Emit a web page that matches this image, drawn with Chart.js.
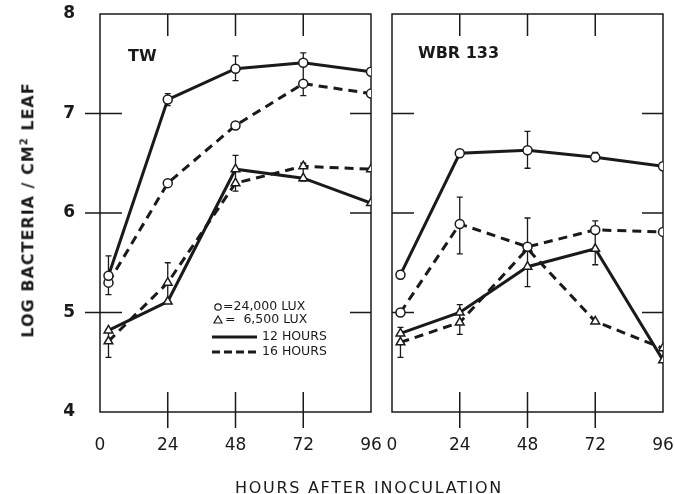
<!DOCTYPE html>
<html>
<head>
<meta charset="utf-8">
<script src="https://cdn.jsdelivr.net/npm/chart.js@4"></script>
<style>
body { margin:0; background:#fff; width:674px; height:494px; position:relative; overflow:hidden; font-family:"DejaVu Sans", sans-serif; color:#1a1a1a; }
#left { position:absolute; left:0; top:0; }
#right { position:absolute; left:382px; top:0; }
#ytitle { position:absolute; left:28px; top:210px; transform:translate(-50%,-50%) rotate(-90deg); white-space:nowrap; font-size:16px; font-weight:bold; letter-spacing:1px; }
#xtitle { position:absolute; left:369px; top:487px; transform:translate(-50%,-50%); white-space:nowrap; font-size:16px; letter-spacing:1.7px; }
</style>
</head>
<body>
<canvas id="left" width="392" height="494"></canvas>
<canvas id="right" width="292" height="494"></canvas>
<div id="ytitle">LOG BACTERIA / CM<sup style="font-size:10px">2</sup> LEAF</div>
<div id="xtitle">HOURS AFTER INOCULATION</div>
<script>
// sampling times (first sample sits just right of 0)
const hours = [3, 24, 48, 72, 96];
const xTicks = [0, 24, 48, 72, 96];
const yTicks = [4, 5, 6, 7, 8];

// TW
const twHigh12 = [5.37, 7.14, 7.45, 7.51, 7.42];
const twHigh16 = [5.30, 6.30, 6.88, 7.30, 7.20];
const twLow12 = [4.82, 5.11, 6.44, 6.35, 6.10];
const twLow16 = [4.71, 5.30, 6.30, 6.47, 6.44];
// error bars: [hour, low, high]
const twErr = [[3, 5.18, 5.57], [3, 4.55, 4.83], [24, 7.08, 7.20], [24, 5.10, 5.50],
  [48, 7.33, 7.58], [48, 6.22, 6.58], [72, 7.18, 7.61], [72, 6.32, 6.50]];

// WBR 133
const wbrHigh12 = [5.38, 6.60, 6.63, 6.56, 6.47];
const wbrHigh16 = [5.00, 5.89, 5.66, 5.83, 5.81];
const wbrLow12 = [4.79, 5.00, 5.46, 5.64, 4.52];
const wbrLow16 = [4.70, 4.90, 5.64, 4.91, 4.64];
const wbrErr = [[3, 5.34, 5.42], [3, 4.55, 4.85], [24, 5.59, 6.16], [24, 4.78, 5.08],
  [48, 6.45, 6.82], [48, 5.26, 5.95], [72, 6.53, 6.61], [72, 5.48, 5.92]];

const ink = '#1a1a1a';

function series(vals, style, dashed) {
  return {
    data: hours.map((h, i) => ({x: h, y: vals[i]})),
    borderColor: ink,
    borderWidth: 3,
    borderDash: dashed ? [9, 6] : [],
    pointStyle: style,
    pointRadius: style === 'triangle' ? 5 : 4.5,
    pointBorderWidth: 1.5,
    pointBorderColor: ink,
    pointBackgroundColor: '#fff',
    tension: 0
  };
}

const frame = {
  id: 'frame',
  beforeDatasetsDraw(chart, args, opts) {
    const ctx = chart.ctx;
    const a = chart.chartArea;
    const xs = chart.scales.x, ys = chart.scales.y;
    ctx.save();
    ctx.strokeStyle = ink;
    ctx.lineWidth = 1.5;
    ctx.strokeRect(a.left, a.top, a.right - a.left, a.bottom - a.top);
    ctx.beginPath();
    for (const v of [5, 6, 7]) {
      const py = ys.getPixelForValue(v);
      ctx.moveTo(a.left - opts.outLeft, py); ctx.lineTo(a.left + 22, py);
      ctx.moveTo(a.right - 21, py); ctx.lineTo(a.right, py);
    }
    for (const v of [24, 48, 72]) {
      const px = xs.getPixelForValue(v);
      ctx.moveTo(px, a.top); ctx.lineTo(px, a.top + 22);
      ctx.moveTo(px, a.bottom - 20); ctx.lineTo(px, a.bottom + 16);
    }
    ctx.stroke();
    // error bars
    ctx.lineWidth = 1.3;
    ctx.beginPath();
    for (const e of opts.err) {
      const px = xs.getPixelForValue(e[0]);
      const lo = ys.getPixelForValue(e[1]), hi = ys.getPixelForValue(e[2]);
      ctx.moveTo(px, lo); ctx.lineTo(px, hi);
      ctx.moveTo(px - 3, lo); ctx.lineTo(px + 3, lo);
      ctx.moveTo(px - 3, hi); ctx.lineTo(px + 3, hi);
    }
    ctx.stroke();
    ctx.restore();
  },
  afterDatasetsDraw(chart, args, opts) {
    const ctx = chart.ctx;
    const a = chart.chartArea;
    ctx.save();
    ctx.fillStyle = ink;
    ctx.strokeStyle = ink;
    ctx.font = 'bold 16px "DejaVu Sans"';
    ctx.textBaseline = 'middle';
    ctx.fillText(opts.label, a.left + opts.labelX, a.top + opts.labelY);
    if (opts.legend) {
      const lx = a.left + 112, ly = a.top + 293;
      ctx.font = '12.5px "DejaVu Sans"';
      ctx.lineWidth = 1.2;
      ctx.beginPath();
      ctx.arc(lx + 6, ly, 3.2, 0, Math.PI * 2);
      ctx.stroke();
      ctx.fillText('=24,000 LUX', lx + 11, ly);
      ctx.beginPath();
      ctx.moveTo(lx + 6, ly + 9); ctx.lineTo(lx + 10, ly + 16); ctx.lineTo(lx + 2, ly + 16); ctx.closePath();
      ctx.stroke();
      ctx.fillText('=  6,500 LUX', lx + 13, ly + 13);
      ctx.lineWidth = 3;
      ctx.beginPath();
      ctx.moveTo(lx, ly + 30); ctx.lineTo(lx + 45, ly + 30);
      ctx.stroke();
      ctx.setLineDash([8, 4]);
      ctx.beginPath();
      ctx.moveTo(lx, ly + 45); ctx.lineTo(lx + 45, ly + 45);
      ctx.stroke();
      ctx.fillText('12 HOURS', lx + 50, ly + 30);
      ctx.fillText('16 HOURS', lx + 50, ly + 45);
    }
    ctx.restore();
  }
};

function makeChart(id, sets, err, label, first) {
  return new Chart(document.getElementById(id), {
    type: 'line',
    data: {
      datasets: [
        series(sets[0], 'circle', false),
        series(sets[1], 'circle', true),
        series(sets[2], 'triangle', false),
        series(sets[3], 'triangle', true)
      ]
    },
    options: {
      responsive: false,
      animation: false,
      layout: { padding: first ? {top: 14, right: 21, left: 0, bottom: 0} : {top: 14, right: 11, left: 10, bottom: 0} },
      plugins: {
        legend: { display: false },
        tooltip: { enabled: false },
        frame: {
          err: err, label: label, legend: first, outLeft: first ? 15 : 0,
          labelX: first ? 28 : 26, labelY: first ? 43 : 40
        }
      },
      scales: {
        x: {
          type: 'linear', min: 0, max: 96,
          afterFit: s => { s.height = 82; },
          afterBuildTicks: s => { s.ticks = xTicks.map(v => ({value: v})); },
          // invisible tick marks only push the labels down
          grid: { display: false, drawTicks: true, tickLength: 23 },
          border: { display: false },
          ticks: { padding: 0, color: ink, font: { family: 'DejaVu Sans', size: 17 } }
        },
        y: {
          display: first,
          min: 4, max: 8,
          afterFit: s => { if (first) s.width = 100; },
          afterBuildTicks: s => { s.ticks = yTicks.map(v => ({value: v})); },
          grid: { display: false, drawTicks: true, tickLength: 25 },
          border: { display: false },
          ticks: { padding: 0, color: ink, font: { family: 'DejaVu Sans', size: 17, weight: 'bold' } }
        }
      }
    },
    plugins: [frame]
  });
}

makeChart('left', [twHigh12, twHigh16, twLow12, twLow16], twErr, 'TW', true);
makeChart('right', [wbrHigh12, wbrHigh16, wbrLow12, wbrLow16], wbrErr, 'WBR 133', false);
</script>
</body>
</html>
